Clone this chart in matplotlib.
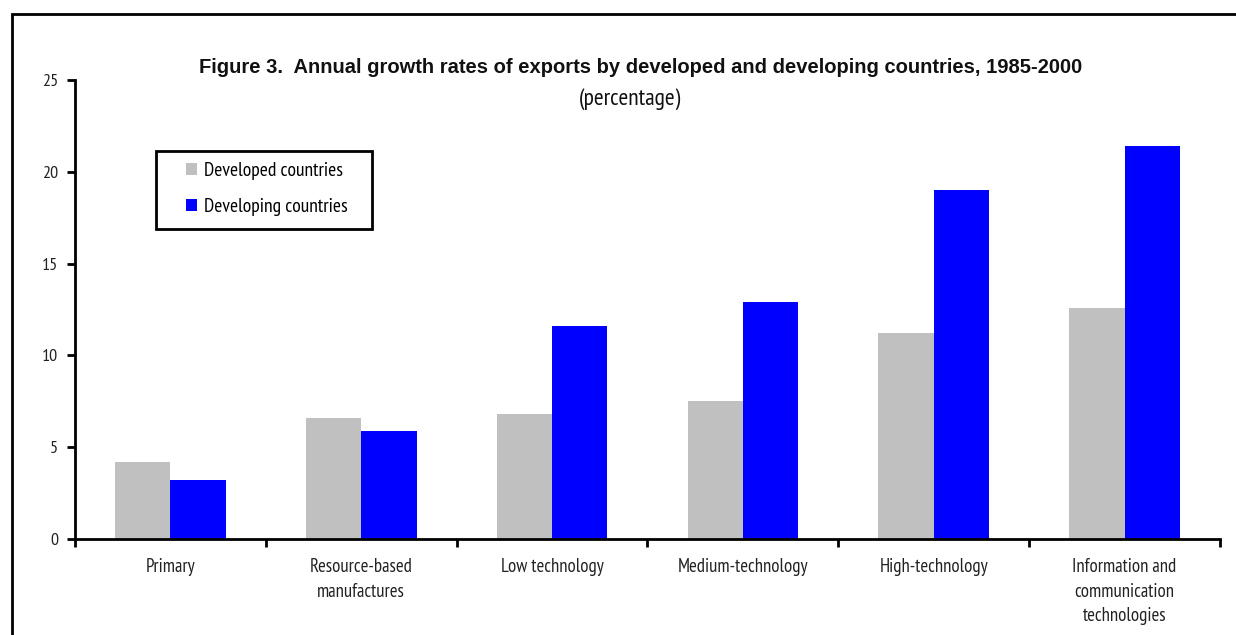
import matplotlib
matplotlib.use("Agg")
import matplotlib.pyplot as plt
from matplotlib.patches import Rectangle
from matplotlib import font_manager
import numpy as np

categories = ["Primary", "Resource-based\nmanufactures", "Low technology",
              "Medium-technology", "High-technology",
              "Information and\ncommunication\ntechnologies"]
developed = [4.2, 6.6, 6.8, 7.5, 11.2, 12.6]
developing = [3.2, 5.9, 11.6, 12.9, 19.0, 21.4]
series_names = ["Developed countries", "Developing countries"]
yticks = [0, 5, 10, 15, 20, 25]

names = {f.name for f in font_manager.fontManager.ttflist}
narrow = next((f for f in ["PT Sans Narrow", "Liberation Sans Narrow", "Liberation Sans"] if f in names),
              "DejaVu Sans")
wide = "Liberation Sans" if "Liberation Sans" in names else "DejaVu Sans"
plt.rcParams["font.family"] = [narrow, "DejaVu Sans"]

W, H = 1236, 635
fig = plt.figure(figsize=(W / 100, H / 100), dpi=100)
ax = fig.add_axes([75 / W, 1 - 539 / H, (1220 - 75) / W, (539 - 80) / H])


def px(xp, yp):
    """Figure-pixel position (from top-left) to figure fraction."""
    return xp / W, 1 - yp / H


x = np.arange(len(categories))
w = 0.29
ax.bar(x - w / 2, developed, width=w, color="#c0c0c0", label=series_names[0])
ax.bar(x + w / 2, developing, width=w, color="#0000ff", label=series_names[1])

ax.set_xlim(-0.5, len(categories) - 0.5)
ax.set_ylim(0, 25)
ax.set_yticks(yticks)
ax.set_yticklabels([str(t) for t in yticks], fontsize=13, color="#222222")
ax.set_xticks(x)
ax.set_xticklabels(categories, fontsize=13.5, color="#222222", linespacing=1.45)
ax.tick_params(axis="x", length=0, pad=14)
ax.set_xticks(np.arange(len(categories) + 1) - 0.5, minor=True)
ax.tick_params(axis="x", which="minor", length=6, width=2, direction="out")
ax.tick_params(axis="y", length=6, width=2, direction="out", pad=6)

for s in ["top", "right"]:
    ax.spines[s].set_visible(False)
for s in ["left", "bottom"]:
    ax.spines[s].set_linewidth(2)

# legend entries, with a boxed frame drawn around them
leg = ax.legend(loc="upper left", bbox_to_anchor=px(186, 162), bbox_transform=fig.transFigure,
                fontsize=14, frameon=False, handlelength=0.55, handleheight=0.55,
                handletextpad=0.35, labelspacing=0.92, borderpad=0, borderaxespad=0)
x0, y1 = px(156, 151)
x1, y0 = px(372, 229)
fig.patches.append(Rectangle((x0, y0), x1 - x0, y1 - y0, transform=fig.transFigure,
                             fill=False, edgecolor="black", linewidth=2))

tx, ty = px(641, 73)
fig.text(tx, ty, "Figure 3.  Annual growth rates of exports by developed and developing countries, 1985-2000",
         ha="center", va="baseline", fontsize=14.5, fontweight="bold", color="#111111", family=wide)
sx, sy = px(630, 99.5)
fig.text(sx, sy, "(percentage)", ha="center", va="center", fontsize=17, color="#111111")

# outer frame around the chart
fx, fy = px(12, 14)
fig.patches.append(Rectangle((fx, -0.1), 1.2, fy + 0.1, transform=fig.transFigure,
                             fill=False, edgecolor="black", linewidth=2))

fig.savefig("out.png", dpi=100)
